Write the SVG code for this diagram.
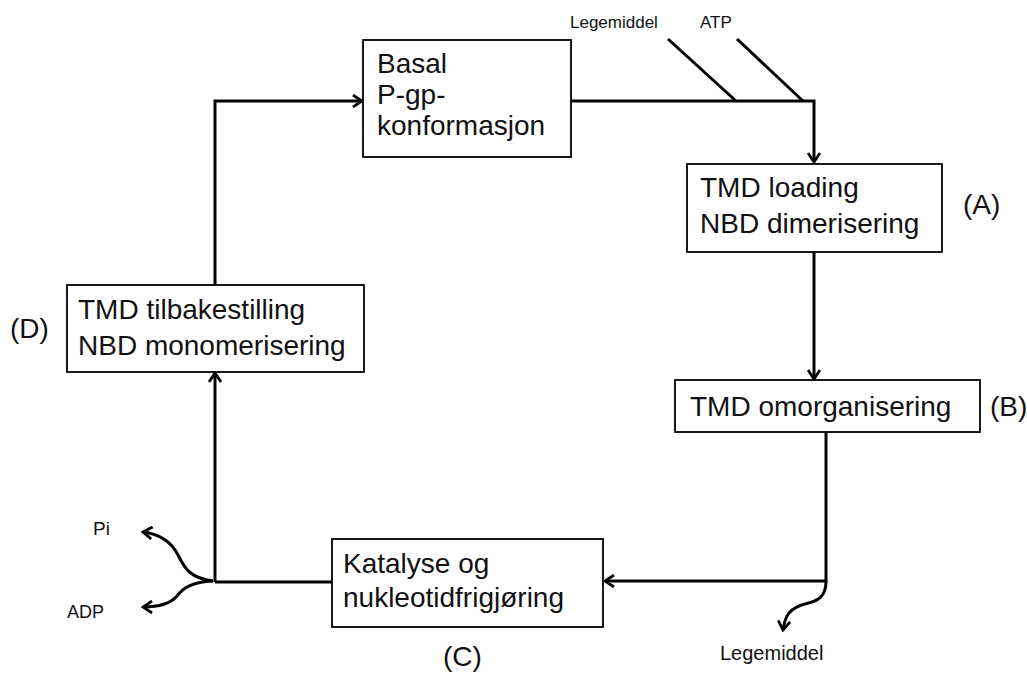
<svg xmlns="http://www.w3.org/2000/svg" width="1027" height="673" viewBox="0 0 1027 673">
<style>
.box{fill:#fff;stroke:#000;stroke-width:1.8}
.t{font-family:"Liberation Sans",Arial,sans-serif;font-size:28px;fill:#111}
.s{font-family:"Liberation Sans",Arial,sans-serif;fill:#111}
.c{fill:none;stroke:#000;stroke-width:3}
.a{marker-end:url(#arr)}
</style>
<defs>
<marker id="arr" markerUnits="userSpaceOnUse" viewBox="0 0 12 14" refX="10" refY="7" markerWidth="12" markerHeight="14" orient="auto">
<path d="M1,1 L10,7 L1,13" fill="none" stroke="#000" stroke-width="2.8"/>
</marker>
</defs>
<rect width="1027" height="673" fill="#fff"/>
<g id="connectors">
<path class="c a" d="M571,101 H814 V162"/>
<line class="c" x1="668" y1="39" x2="736" y2="101"/>
<line class="c" x1="737" y1="39" x2="803" y2="101"/>
<path class="c a" d="M814,252 V379"/>
<path class="c a" d="M826,432 V581 H605"/>
<path class="c a" d="M826,581 C826,597 818,601 805,604 C790,608 785,615 783,630"/>
<path class="c" d="M332,582 H215"/>
<path class="c a" d="M215,582 V373"/>
<path class="c a" d="M215,285 V101 H362"/>
<path class="c a" d="M213,581 C188,578 184,566 178,555 C172,543 160,534 143,532"/>
<path class="c a" d="M213,581 C192,582 183,588 177,596 C171,603 160,607 143,607"/>
</g>
<g id="basal">
<rect class="box" x="363" y="40" width="208" height="117"/>
<text class="t" x="377" y="73">Basal</text>
<text class="t" x="377" y="104">P-gp-</text>
<text class="t" x="377" y="135">konformasjon</text>
</g>
<g id="tmd-loading">
<rect class="box" x="687" y="164" width="255" height="88"/>
<text class="t" x="700" y="197">TMD loading</text>
<text class="t" x="700" y="233">NBD dimerisering</text>
</g>
<g id="label-a"><text class="t" x="963" y="214">(A)</text></g>
<g id="tmd-omorg">
<rect class="box" x="675" y="380" width="305" height="52"/>
<text class="t" x="690" y="416">TMD omorganisering</text>
</g>
<g id="label-b"><text class="t" x="990" y="416">(B)</text></g>
<g id="katalyse">
<rect class="box" x="332" y="539" width="271" height="88"/>
<text class="t" x="343" y="573">Katalyse og</text>
<text class="t" x="343" y="607">nukleotidfrigjøring</text>
</g>
<g id="label-c"><text class="t" x="443" y="666">(C)</text></g>
<g id="tmd-tilbake">
<rect class="box" x="67" y="285" width="297" height="87"/>
<text class="t" x="78" y="319">TMD tilbakestilling</text>
<text class="t" x="78" y="355">NBD monomerisering</text>
</g>
<g id="label-d"><text class="t" x="10" y="338">(D)</text></g>
<g id="small-labels">
<text class="s" x="570" y="28" font-size="17">Legemiddel</text>
<text class="s" x="700" y="28" font-size="17">ATP</text>
<text class="s" x="720" y="660" font-size="20">Legemiddel</text>
<text class="s" x="93" y="535" font-size="19">Pi</text>
<text class="s" x="67" y="618" font-size="18">ADP</text>
</g>
</svg>
